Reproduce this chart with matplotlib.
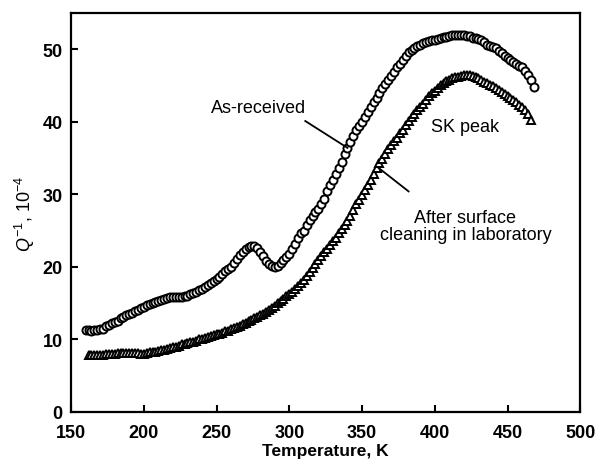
import matplotlib
matplotlib.use("Agg")
import matplotlib.pyplot as plt

plt.rcParams['font.family'] = ['Liberation Sans', 'DejaVu Sans']
plt.rcParams['mathtext.fontset'] = 'custom'
plt.rcParams['mathtext.rm'] = 'Liberation Sans'
plt.rcParams['mathtext.it'] = 'Liberation Sans:italic'

# As-received (circles)
t_as = [160, 162, 164, 166, 168, 170, 172, 174, 176, 178, 180, 182, 184, 186, 188, 190,
        192, 194, 196, 198, 200, 202, 204, 206, 208, 210, 212, 214, 216, 218, 220, 222,
        224, 226, 228, 230, 232, 234, 236, 238, 240, 242, 244, 246, 248, 250, 252, 254,
        256, 258, 260, 262, 264, 266, 268, 270, 272, 274, 276, 278, 280, 282, 284, 286,
        288, 290, 292, 294, 296, 298, 300, 302, 304, 306, 308, 310, 312, 314, 316, 318,
        320, 322, 324, 326, 328, 330, 332, 334, 336, 338, 340, 342, 344, 346, 348, 350,
        352, 354, 356, 358, 360, 362, 364, 366, 368, 370, 372, 374, 376, 378, 380, 382,
        384, 386, 388, 390, 392, 394, 396, 398, 400, 402, 404, 406, 408, 410, 412, 414,
        416, 418, 420, 422, 424, 426, 428, 430, 432, 434, 436, 438, 440, 442, 444, 446,
        448, 450, 452, 454, 456, 458, 460, 462, 464, 466, 468]
q_as = [11.3, 11.3, 11.2, 11.3, 11.3, 11.4, 11.5, 11.8, 12.0, 12.2, 12.4, 12.6, 12.9, 13.1, 13.3, 13.5,
        13.7, 13.9, 14.1, 14.3, 14.5, 14.7, 14.9, 15.0, 15.2, 15.3, 15.4, 15.6, 15.7, 15.8, 15.8, 15.9,
        15.9, 15.9, 16.0, 16.0, 16.2, 16.4, 16.6, 16.8, 16.9, 17.2, 17.5, 17.8, 18.0, 18.3, 18.6, 19.0,
        19.4, 19.7, 20.0, 20.5, 21.1, 21.6, 22.1, 22.5, 22.7, 22.9, 22.9, 22.6, 22.1, 21.5, 20.8, 20.4,
        20.1, 20.0, 20.1, 20.5, 20.9, 21.3, 21.8, 22.5, 23.2, 24.0, 24.6, 25.0, 25.7, 26.4, 27.0, 27.5,
        28.0, 28.7, 29.4, 30.4, 31.3, 32.0, 32.8, 33.6, 34.5, 35.5, 36.4, 37.2, 38.0, 38.8, 39.4, 40.0,
        40.7, 41.4, 42.0, 42.7, 43.3, 43.9, 44.6, 45.2, 45.8, 46.3, 46.9, 47.5, 47.9, 48.5, 49.0, 49.6,
        49.9, 50.2, 50.4, 50.6, 50.8, 51.0, 51.1, 51.2, 51.3, 51.4, 51.6, 51.7, 51.7, 51.8, 51.9, 51.9,
        51.9, 51.9, 51.9, 51.8, 51.8, 51.6, 51.5, 51.4, 51.2, 51.0, 50.6, 50.4, 50.3, 50.1, 49.8, 49.5,
        49.1, 48.8, 48.5, 48.3, 48.0, 47.7, 47.5, 47.0, 46.4, 45.8, 44.8]

# After surface cleaning in laboratory (triangles)
t_cl = [162, 164, 166, 168, 170, 172, 174, 176, 178, 180, 182, 184, 186, 188, 190, 192,
        194, 196, 198, 200, 202, 204, 206, 208, 210, 212, 214, 216, 218, 220, 222, 224,
        226, 228, 230, 232, 234, 236, 238, 240, 242, 244, 246, 248, 250, 252, 254, 256,
        258, 260, 262, 264, 266, 268, 270, 272, 274, 276, 278, 280, 282, 284, 286, 288,
        290, 292, 294, 296, 298, 300, 302, 304, 306, 308, 310, 312, 314, 316, 318, 320,
        322, 324, 326, 328, 330, 332, 334, 336, 338, 340, 342, 344, 346, 348, 350, 352,
        354, 356, 358, 360, 362, 364, 366, 368, 370, 372, 374, 376, 378, 380, 382, 384,
        386, 388, 390, 392, 394, 396, 398, 400, 402, 404, 406, 408, 410, 412, 414, 416,
        418, 420, 422, 424, 426, 428, 430, 432, 434, 436, 438, 440, 442, 444, 446, 448,
        450, 452, 454, 456, 458, 460, 462, 464, 466]
q_cl = [7.8, 7.9, 7.9, 7.9, 7.9, 7.9, 8.0, 8.0, 8.0, 8.0, 8.1, 8.1, 8.1, 8.1, 8.1, 8.1,
        8.1, 8.1, 8.0, 8.0, 8.1, 8.2, 8.2, 8.3, 8.4, 8.5, 8.6, 8.7, 8.8, 8.9, 9.0, 9.1,
        9.3, 9.4, 9.5, 9.6, 9.7, 9.8, 10.0, 10.1, 10.2, 10.4, 10.5, 10.6, 10.7, 10.8, 10.9, 11.1,
        11.2, 11.4, 11.6, 11.7, 11.9, 12.1, 12.3, 12.5, 12.7, 12.9, 13.1, 13.3, 13.5, 13.8, 14.1, 14.3,
        14.6, 15.0, 15.3, 15.6, 16.0, 16.3, 16.6, 17.0, 17.4, 17.8, 18.2, 18.8, 19.3, 19.9, 20.4, 20.9,
        21.5, 22.0, 22.5, 23.0, 23.5, 24.0, 24.6, 25.2, 25.7, 26.3, 27.0, 27.8, 28.6, 29.2, 29.9, 30.6,
        31.3, 32.0, 32.8, 33.6, 34.3, 34.9, 35.6, 36.2, 36.8, 37.3, 37.8, 38.4, 38.9, 39.5, 40.1, 40.6,
        41.1, 41.6, 42.0, 42.5, 43.0, 43.5, 43.9, 44.3, 44.7, 45.0, 45.3, 45.6, 45.8, 46.0, 46.1, 46.2,
        46.3, 46.4, 46.4, 46.4, 46.3, 46.1, 46.0, 45.8, 45.5, 45.3, 45.1, 44.9, 44.7, 44.4, 44.1, 43.8,
        43.6, 43.3, 43.0, 42.7, 42.3, 42.0, 41.6, 41.0, 40.3]

x_ticks = [150, 200, 250, 300, 350, 400, 450, 500]
y_ticks = [0, 10, 20, 30, 40, 50]

fig = plt.figure(figsize=(5.97, 4.64), dpi=100)
ax = fig.add_axes([0.119, 0.110, 0.853, 0.860])

ax.plot(t_as, q_as, linestyle='none', marker='o', markersize=5.8, markerfacecolor='white',
        markeredgecolor='black', markeredgewidth=1.4)
ax.plot(t_cl, q_cl, linestyle='none', marker='^', markersize=5.2, markerfacecolor='white',
        markeredgecolor='black', markeredgewidth=1.4)

ax.set_xlim(150, 500)
ax.set_ylim(0, 55)
ax.set_xticks(x_ticks)
ax.set_yticks(y_ticks)
ax.tick_params(direction='in', length=5, width=1.5, labelsize=13, top=False, right=False)
ax.tick_params(axis='x', pad=9)
ax.tick_params(axis='y', pad=6)
for lab in ax.get_xticklabels() + ax.get_yticklabels():
    lab.set_fontweight('bold')
for sp in ax.spines.values():
    sp.set_linewidth(1.6)

ax.set_xlabel('Temperature, K', fontsize=12.5, fontweight='bold', labelpad=1)
ax.set_ylabel(r'$\mathit{Q}^{-1}$, 10$^{-4}$', fontsize=13, labelpad=4)

ax.text(278.6, 41.9, 'As-received', fontsize=13, ha='center', va='center')
ax.plot([311, 340], [40.1, 36.4], color='black', linewidth=1.3)
ax.text(421, 39.4, 'SK peak', fontsize=13, ha='center', va='center')
ax.text(421, 25.6, 'After surface\ncleaning in laboratory', fontsize=13, ha='center', va='center',
        linespacing=1.0)
ax.plot([361, 382], [33.7, 30.4], color='black', linewidth=1.3)

fig.savefig('out.png', dpi=100)
